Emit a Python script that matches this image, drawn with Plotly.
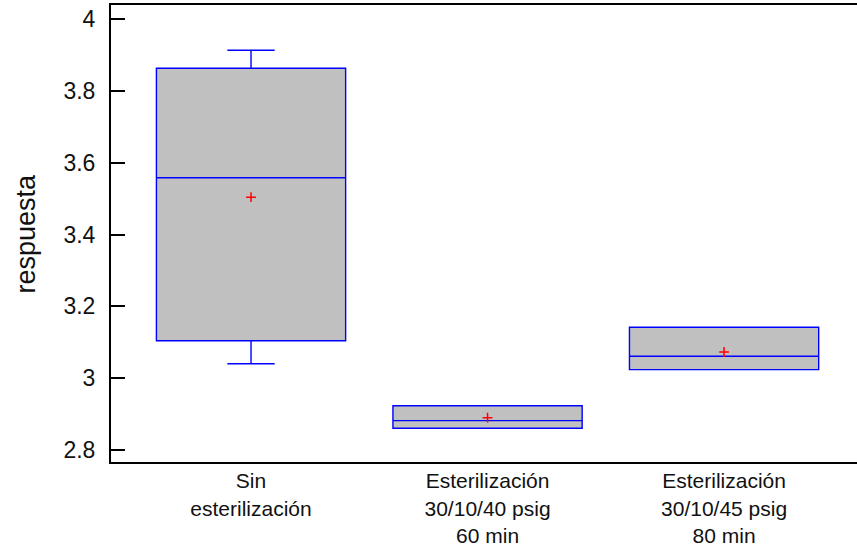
import plotly.graph_objects as go

categories = ["Sin<br>esterilización",
              "Esterilización<br>30/10/40 psig<br>60 min",
              "Esterilización<br>30/10/45 psig<br>80 min"]
lower = [3.040, 2.8605, 3.0237]
q1 = [3.104, 2.8605, 3.0237]
median = [3.558, 2.8817, 3.0609]
q3 = [3.863, 2.9234, 3.1417]
upper = [3.913, 2.9234, 3.1417]
means = [3.504, 2.8901, 3.0729]

y_ticks = [2.8, 3.0, 3.2, 3.4, 3.6, 3.8, 4.0]
y_tick_text = ["2.8", "3", "3.2", "3.4", "3.6", "3.8", "4"]
y_range = [2.7666, 4.039]
x_range = [-0.592, 2.562]

fig = go.Figure()
fig.add_trace(go.Box(
    x=categories, q1=q1, median=median, q3=q3,
    lowerfence=lower, upperfence=upper,
    width=0.8, whiskerwidth=0.25,
    fillcolor="#C0C0C0", line=dict(color="#0000FF", width=1.4),
    boxpoints=False, showlegend=False, hoverinfo="skip",
))
fig.add_trace(go.Scatter(
    x=categories, y=means, mode="markers",
    marker=dict(symbol="cross-thin", size=7, line=dict(color="#FF0000", width=1.5)),
    showlegend=False, hoverinfo="skip",
))

fig.update_layout(
    template="none",
    width=857, height=549,
    margin=dict(l=111, r=0, t=5, b=87),
    paper_bgcolor="white", plot_bgcolor="white",
    font=dict(family="Liberation Sans, Arial, sans-serif", color="black"),
    xaxis=dict(
        type="category", range=x_range, automargin=False,
        showline=True, linecolor="black", linewidth=2, mirror=True,
        ticks="", showgrid=False, zeroline=False, ticklabelstandoff=-1,
        tickfont=dict(size=21, family="Liberation Sans, Arial, sans-serif", color="#111"),
    ),
    yaxis=dict(
        range=y_range, tickvals=y_ticks, ticktext=y_tick_text, automargin=False,
        showline=True, linecolor="black", linewidth=2,
        ticks="inside", ticklen=14, tickwidth=1.5, tickcolor="black",
        showgrid=False, zeroline=False, ticklabelstandoff=9,
        tickfont=dict(size=23, family="Liberation Sans, Arial, sans-serif", color="#111"),
    ),
    yaxis2=dict(
        overlaying="y", side="right", range=y_range, tickvals=y_ticks, automargin=False,
        showticklabels=False, showline=False, showgrid=False, zeroline=False,
        ticks="inside", ticklen=7, tickwidth=1.5, tickcolor="black",
    ),
    annotations=[dict(
        text="respuesta", xref="paper", yref="paper", x=0, y=0.5,
        xshift=-86, textangle=-90, showarrow=False,
        font=dict(size=27, family="Liberation Sans, Arial, sans-serif", color="#111"),
        xanchor="center", yanchor="middle",
    )],
)

fig.write_html("out.html",
               config={"displayModeBar": False},
               post_script="document.body.style.margin='0';document.body.style.overflow='hidden';")
